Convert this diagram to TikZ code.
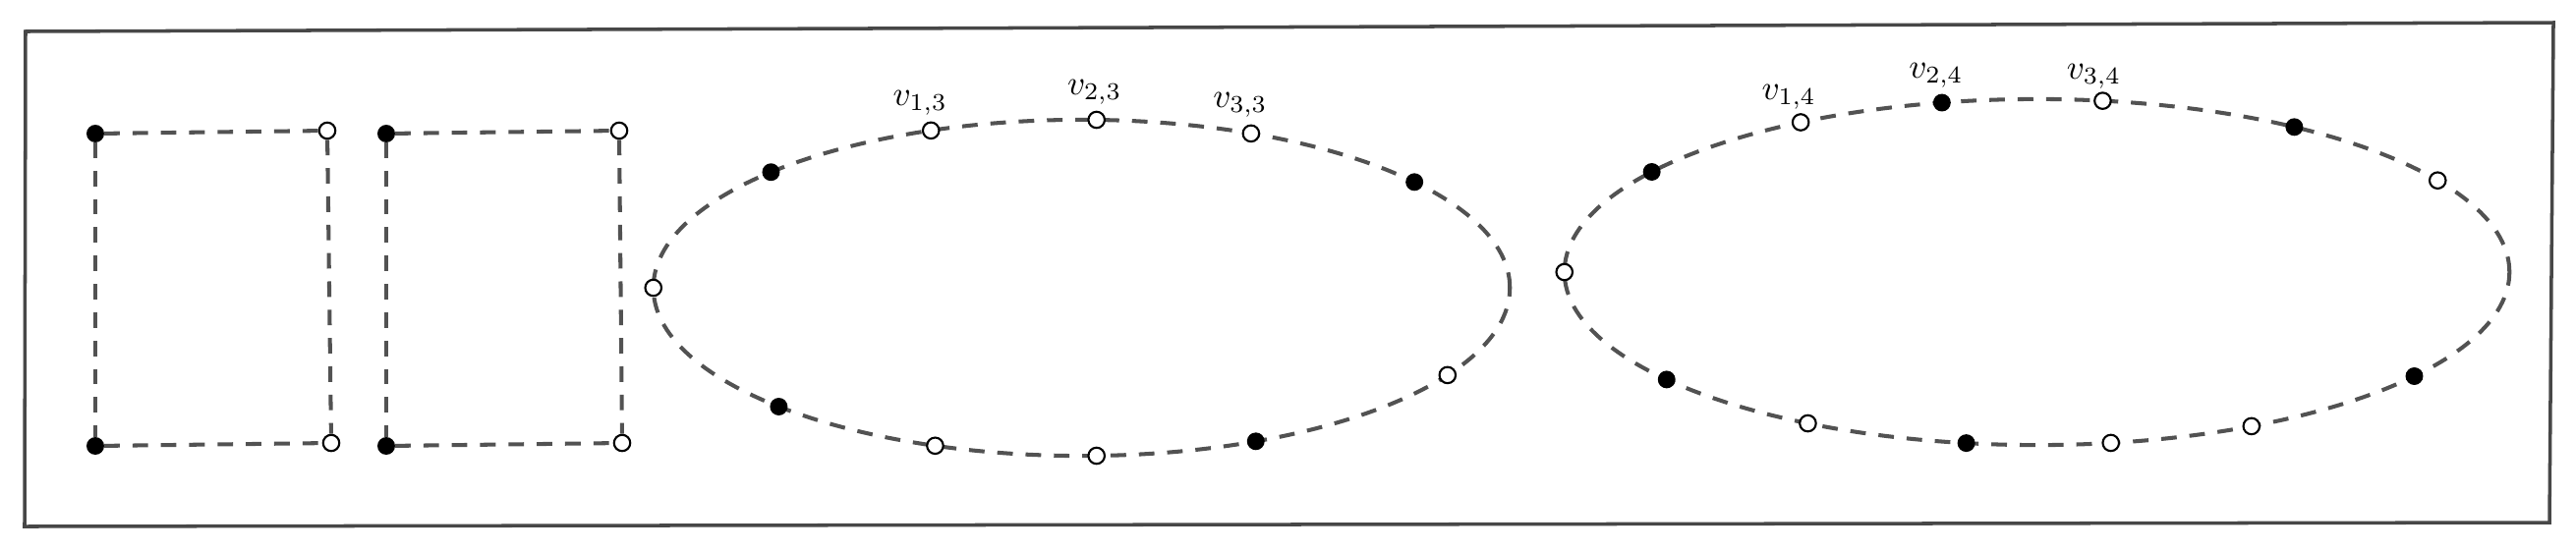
\documentclass[tikz,border=0pt]{standalone}
\usetikzlibrary{calc}
\begin{document}
\begin{tikzpicture}[x=0.01cm,y=-0.01cm,
  edge/.style={draw=black!68, line width=1.15pt, dash pattern=on 4.5pt off 3.7pt},
  bn/.style={circle, fill=black, draw=black, line width=0.4pt, inner sep=0pt, minimum size=0.165cm},
  wn/.style={circle, fill=white, draw=black, line width=0.6pt, inner sep=0pt, minimum size=0.165cm},
  lab/.style={inner sep=0pt}]
\useasboundingbox (0,0) rectangle (2621,560);
\draw[black!72, line width=1pt] (26,32) -- (2598,23) -- (2594,532) -- (25,536) -- cycle;
% rectangle 1
\node[bn] (a1) at (97,136) {};
\node[wn] (a2) at (333,133) {};
\node[wn] (a3) at (337,451) {};
\node[bn] (a4) at (97,454) {};
\draw[edge] (a1) -- (a2);
\draw[edge] (a2) -- (a3);
\draw[edge] (a4) -- (a3);
\draw[edge] (a1) -- (a4);
% rectangle 2
\node[bn] (b1) at (393,136) {};
\node[wn] (b2) at (630,133) {};
\node[wn] (b3) at (633,451) {};
\node[bn] (b4) at (393,454) {};
\draw[edge] (b1) -- (b2);
\draw[edge] (b2) -- (b3);
\draw[edge] (b4) -- (b3);
\draw[edge] (b1) -- (b4);
% ellipse 1
\coordinate (c1) at (1100.5,293);
\draw[edge] (c1) ellipse [x radius=4.355cm, y radius=1.71cm];
\foreach \t/\s/\n in {180/wn/p1, 136.5/bn/p2, 110.6/wn/v13, 88/wn/v23, 66.7/wn/v33, 39/bn/p6,
  -31.3/wn/p7, -66/bn/p8, -88/wn/p9, -110/wn/p10, -135/bn/p11}
  \node[\s] (\n) at ($(c1)+(\t:4.355cm and 1.71cm)$) {};
\node[lab] (l13) at ($(v13)+(-11,-28)$) {$v_{1,3}$};
\node[lab] (l23) at ($(v23)+(-2,-28)$) {$v_{2,3}$};
\node[lab] (l33) at ($(v33)+(-11,-29)$) {$v_{3,3}$};
% ellipse 2
\coordinate (c2) at (2072.5,277);
\draw[edge] (c2) ellipse [x radius=4.805cm, y radius=1.76cm];
\foreach \t/\s/\n in {180/wn/q1, 144.6/bn/q2, 120/wn/v14, 101.6/bn/v24, 82/wn/v34, 57/bn/q6, 32/wn/q7,
  -37/bn/q8, -63/wn/q9, -81/wn/q10, -98.6/bn/q11, -119/wn/q12, -141.6/bn/q13}
  \node[\s] (\n) at ($(c2)+(\t:4.805cm and 1.76cm)$) {};
\node[lab] (l14) at ($(v14)+(-12,-26)$) {$v_{1,4}$};
\node[lab] (l24) at ($(v24)+(-6,-28)$) {$v_{2,4}$};
\node[lab] (l34) at ($(v34)+(-9,-25)$) {$v_{3,4}$};
\end{tikzpicture}
\end{document}
